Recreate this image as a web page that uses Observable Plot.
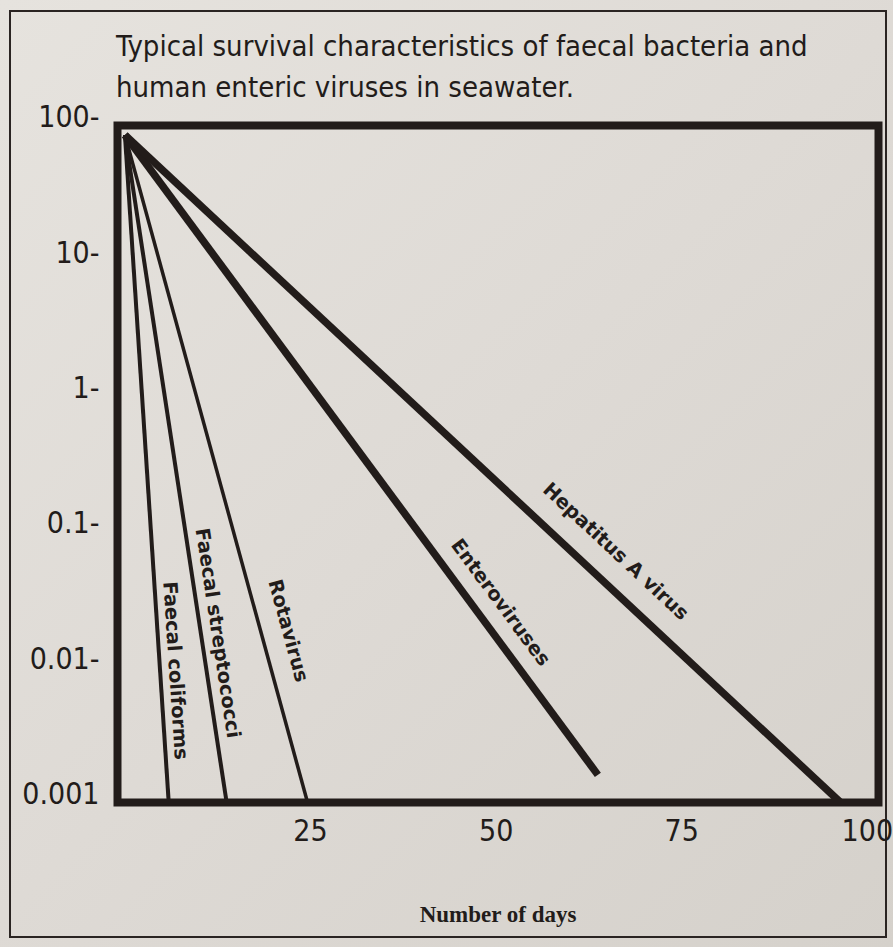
<!DOCTYPE html>
<html>
<head>
<meta charset="utf-8">
<script src="https://cdn.jsdelivr.net/npm/d3@7"></script>
<script src="https://cdn.jsdelivr.net/npm/@observablehq/plot@0.6"></script>
<style>
  html, body { margin: 0; padding: 0; }
  body { width: 893px; height: 947px; overflow: hidden; }
  #wrap { position: relative; width: 893px; height: 947px;
    background: linear-gradient(135deg, #e6e3de 0%, #dedad5 50%, #d5d1cb 100%); }
  #outer { position: absolute; left: 9px; top: 10px; width: 878px; height: 928px;
    border: 2px solid #2a2422; box-sizing: border-box; }
  #title { position: absolute; left: 116px; top: 26px; font-family: "Liberation Sans Narrow", "DejaVu Sans Condensed", "Roboto", sans-serif;
    font-size: 29px; line-height: 41px; color: #221c1a; }
  #chart { position: absolute; left: 0; top: 0; }
</style>
</head>
<body>
<div id="wrap">
  <div id="outer"></div>
  <div id="chart"></div>
  <div id="title">Typical survival characteristics of faecal bacteria and<br>human enteric viruses in seawater.</div>
</div>
<script>
const series = ["Faecal coliforms", "Faecal streptococci", "Rotavirus", "Enteroviruses", "Hepatitus A virus"];
const startDay = [0, 0, 0, 0, 0];
const startCount = [85, 85, 85, 85, 85];
const endDay = [5.9, 13.7, 24.6, 63.7, 96.4];
const endCount = [0.001, 0.001, 0.001, 0.0016, 0.001];
const labelDay = [6.8, 12.5, 22.0, 50.6, 66.1];
const labelCount = [0.0094, 0.0178, 0.0186, 0.030, 0.0714];
const lineWeight = [4, 4, 3.5, 7.5, 7.5];
const yTicks = [100, 10, 1, 0.1, 0.01, 0.001];
const xTicks = [25, 50, 75, 100];

const W = 893, H = 947;
const margin = {top: 125, left: 117, right: 15, bottom: 145};
const xDomain = [-1, 101.5];
const yDomain = [0.001, 100];

const xs = Plot.scale({x: {domain: xDomain, range: [margin.left, W - margin.right]}});
const ys = Plot.scale({y: {type: "log", domain: yDomain, range: [H - margin.bottom, margin.top]}});

const rows = series.map((s, i) => {
  const dx = xs.apply(endDay[i]) - xs.apply(startDay[i]);
  const dy = ys.apply(endCount[i]) - ys.apply(startCount[i]);
  return {
    name: s, x1: startDay[i], y1: startCount[i], x2: endDay[i], y2: endCount[i],
    lx: labelDay[i], ly: labelCount[i], w: lineWeight[i],
    angle: Math.atan2(dy, dx) * 180 / Math.PI
  };
});

const ink = "#221c1a";
const narrow = "Liberation Sans Narrow, DejaVu Sans Condensed, sans-serif";
const plot = Plot.plot({
  width: W, height: H,
  marginTop: margin.top, marginLeft: margin.left, marginRight: margin.right, marginBottom: margin.bottom,
  style: {background: "transparent", color: ink},
  x: {domain: xDomain},
  y: {type: "log", domain: yDomain},
  marks: [
    Plot.link(rows, {x1: "x1", y1: "y1", x2: "x2", y2: "y2", stroke: ink, strokeWidth: "w", strokeLinecap: "butt"}),
    ...rows.map(r => Plot.text([r], {x: "lx", y: "ly", text: "name", rotate: r.angle, fill: ink,
      fontSize: 19.5, fontWeight: "bold", fontFamily: "DejaVu Sans, sans-serif", textAnchor: "middle",
      style: "letter-spacing:2.3px"})),
    Plot.frame({stroke: ink, strokeWidth: 8}),
    Plot.axisY(yTicks, {tickSize: 0, tickPadding: 18, label: null, dy: -8,
      tickFormat: d => d === 0.001 ? "0.001" : (d >= 1 ? d3.format("d")(d) : String(d)) + "-",
      fontSize: 30, fontFamily: narrow}),
    Plot.axisX(xTicks, {tickSize: 0, tickPadding: 17, label: null,
      fontSize: 30, fontFamily: narrow}),
    Plot.text(["Number of days"], {frameAnchor: "bottom", dy: 119, text: d => d, fill: ink,
      fontSize: 23, fontWeight: "bold", fontFamily: "Liberation Serif, DejaVu Serif, serif",
      style: "letter-spacing:2px"})
  ]
});
document.getElementById("chart").appendChild(plot);
</script>
</body>
</html>
